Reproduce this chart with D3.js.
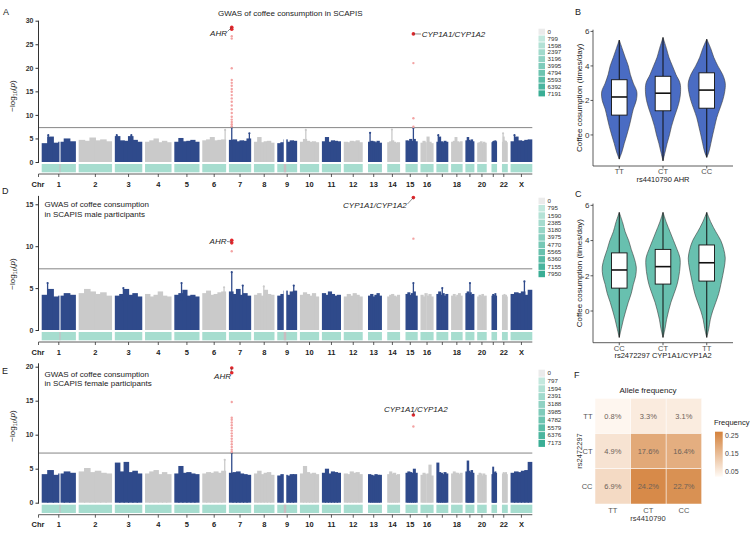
<!DOCTYPE html>
<html>
<head>
<meta charset="utf-8">
<script src="https://cdn.jsdelivr.net/npm/d3@7/dist/d3.min.js"></script>
<style>
body { margin: 0; background: #fff; }
svg { font-family: "Liberation Sans", Arial, sans-serif; display: block; }
</style>
</head>
<body>
<div id="view"></div>
<script>
var width = 752, height = 535;
var svg = null;

// chromosomes (Mb)
var chrNames = ["1","2","3","4","5","6","7","8","9","10","11","12","13","14","15","16","17","18","19","20","21","22","X"];
var chrLen   = [249,243,198,191,181,171,159,146,141,136,135,134,115,107,103,90,81,78,59,63,48,51,155];
var chrFirst = [0,0,0,0,0,0,0,0,0,0,0,0,19,19,20,0,0,0,0,0,15,16,0];
var chrShown = ["1","2","3","4","5","6","7","8","9","10","11","12","13","14","15","16","18","20","22","X"];
var chrGaps  = [[0,125,142],[8,40,68],[15,36,46]];   // chr index, from Mb, to Mb
var gapMb = 30;

// panel A: upper envelope of the dense SNP cloud (6 bins per chromosome)
var profA = [
 [4.0,5.4,4.1,4.3,5.0,4.4],[4.7,4.5,5.2,4.6,4.8,4.4],[5.5,4.6,4.5,5.5,4.7,4.3],[4.3,4.6,5.0,4.2,4.5,4.2],
 [4.3,5.1,4.4,4.5,4.7,4.3],[4.6,4.8,5.3,4.6,4.7,4.8],[4.7,4.8,4.4,4.6,4.5,5.0],[4.3,5.3,4.2,4.4,4.5,4.1],
 [4.0,4.2,4.8,4.3,4.6,4.5],[4.3,4.9,4.5,4.3,4.4,4.2],[4.4,5.3,4.3,4.6,4.5,4.4],[4.3,4.2,4.5,4.4,4.6,4.2],
 [4.3,4.5,4.4,4.2,4.5,4.1],[4.2,4.4,4.6,4.3,4.1,4.2],[4.6,4.5,4.9,4.5,4.9,4.4],[4.1,4.5,4.2,5.4,4.3,4.0],
 [4.3,5.4,4.4,4.2,4.5,4.3],[4.3,4.5,5.3,4.4,4.2,4.4],[4.6,5.3,4.7,4.5,4.8,4.4],[4.1,4.2,4.4,4.0,4.3,4.1],
 [4.2,4.4,4.5,4.3,4.6,4.4],[4.3,5.4,4.6,4.4,4.5,4.2],[4.4,5.4,4.6,4.5,4.7,4.8]
];
var hitsA = [[0,45,5.7],[2,10,5.7],[2,120,5.7],[5,168,6.8],[6,17,7.3],[6,150,6.1],[9,40,6.8],[12,30,6.2],[13,50,6.9],[14,75,7.2],[16,10,5.7],[21,20,6.1],[22,25,5.7]];
var ahrA = { red: [28.6, 28.2], pink: [26.7,26.2,19.9,17.4,16.8,16.2,15.5,14.9,14.2,13.5,12.8,12.0,11.2,10.4,9.6,9.0,8.5,8.0,7.6] };
var cypA = { red: [27.2], pink: [21.0, 9.3, 7.5] };
var legA = ["0","799","1598","2397","3196","3995","4794","5593","6392","7191"];

// panel D (male)
var profD = [
 [4.2,4.9,4.0,4.1,4.4,4.2],[4.4,4.9,4.6,4.3,4.5,4.1],[4.1,4.3,4.9,4.2,4.4,4.0],[4.3,4.0,4.2,4.6,4.1,4.0],
 [4.2,4.4,4.8,4.1,4.2,4.0],[4.4,4.7,4.2,4.3,4.5,4.6],[4.6,4.3,4.9,4.2,4.4,4.1],[4.2,4.4,4.1,4.8,4.3,4.2],
 [4.1,4.3,4.7,4.2,4.6,4.7],[4.2,4.5,4.3,4.1,4.4,4.0],[4.4,4.2,4.6,4.3,4.1,4.2],[4.0,4.3,4.1,4.4,4.2,4.0],
 [4.1,4.3,4.0,4.2,4.4,4.1],[4.0,4.2,4.3,4.1,4.0,4.2],[4.3,4.5,4.2,4.4,4.6,4.1],[4.2,4.0,4.4,4.1,4.3,4.0],
 [4.3,4.6,4.2,4.4,4.1,4.3],[4.1,4.3,4.0,4.2,4.4,4.1],[4.4,4.6,4.3,4.5,4.2,4.3],[4.0,4.2,4.1,4.3,4.0,4.1],
 [4.1,4.3,4.2,4.0,4.4,4.1],[4.2,4.0,4.3,4.1,4.2,4.0],[4.3,4.5,4.4,4.6,4.2,4.8]
];
var hitsD = [[0,40,5.6],[2,60,5.0],[4,50,5.6],[5,160,5.1],[6,17,6.9],[6,100,5.3],[7,70,5.2],[8,120,5.3],[14,75,5.6],[16,40,5.0],[18,30,5.6],[22,100,5.8]];
var ahrD = { red: [10.7, 10.4], pink: [9.4] };
var cypD = { red: [15.8], pink: [10.9] };
var legD = ["0","795","1590","2385","3180","3975","4770","5565","6360","7155","7950"];

// panel E (female)
var profE = [
 [4.2,4.8,4.1,4.3,4.6,4.4],[4.6,5.1,4.5,4.7,4.4,4.3],[5.9,4.6,6.0,4.5,4.7,4.3],[4.3,4.6,4.8,4.2,4.5,4.2],
 [4.3,5.4,4.4,4.5,4.3,4.2],[4.3,4.5,4.4,4.6,4.4,4.7],[4.4,4.5,4.6,4.3,4.2,4.1],[4.3,4.7,4.2,4.4,4.5,4.1],
 [4.0,4.2,4.1,4.0,4.2,4.2],[4.3,5.4,4.5,4.3,4.4,4.2],[4.4,5.0,4.3,4.6,4.5,4.4],[4.3,4.2,4.6,4.4,4.5,4.2],
 [4.2,4.1,4.0,4.2,4.1,4.1],[4.2,4.6,4.3,4.4,4.1,4.2],[4.4,4.6,4.5,4.4,5.0,4.4],[4.1,4.4,4.2,4.3,5.6,4.0],
 [5.9,4.5,4.4,4.2,4.5,4.3],[4.3,4.6,4.4,4.4,4.2,4.4],[4.6,6.2,4.7,4.5,4.8,4.4],[4.1,4.4,4.3,4.0,4.3,4.1],
 [4.2,5.3,4.5,4.3,4.6,4.4],[4.3,4.5,4.4,4.2,4.5,4.2],[4.4,4.6,4.5,4.7,4.8,6.0]
];
var hitsE = [[5,165,6.3],[6,17,7.3]];
var ahrE = { red: [19.8, 19.1], pink: [14.8,12.5,12.2,11.8,11.4,11.0,10.6,10.2,9.8,9.4,9.0,8.6,8.2,7.8,7.5] };
var cypE = { red: [12.9], pink: [11.2] };
var legE = ["0","797","1594","2391","3188","3985","4782","5579","6376","7173"];

var ahrChr = 6, ahrMb = 17, cypChr = 14, cypMb = 75;
var genomeLine = 7.3;

// panel B / C: violins (value, relative density) and box stats [q1, median, q3, min, max]
var groupsB = ["TT","CT","CC"];
var shapeB = [
 [[-1.4,0],[-1,.14],[-0.5,.27],[0,.41],[0.5,.54],[1,.65],[1.5,.76],[2,.92],[2.5,.95],[3,.76],[3.5,.6],[4,.49],[4.5,.32],[5,.16],[5.5,0]],
 [[-1.5,0],[-1,.11],[-0.5,.22],[0,.35],[0.5,.46],[1,.6],[1.5,.76],[2,.89],[2.5,.95],[3,.92],[3.5,.7],[4,.51],[4.5,.32],[5,.19],[5.65,0]],
 [[-1.3,0],[-1,.11],[-0.5,.22],[0,.32],[0.5,.43],[1,.54],[1.5,.7],[2,.86],[2.5,.97],[3,1],[3.5,.86],[4,.6],[4.5,.38],[5,.22],[5.55,0]]
];
var statsB = [[1.15,2.2,3.2,-1.4,5.5],[1.4,2.42,3.4,-1.5,5.65],[1.55,2.6,3.6,-1.3,5.55]];
var groupsC = ["CC","CT","TT"];
var shapeC = [
 [[-1.5,0],[-1,.11],[-0.5,.22],[0,.35],[0.5,.49],[1,.65],[1.5,.76],[2,.89],[2.5,.92],[3,.81],[3.5,.65],[4,.51],[4.5,.32],[5,.19],[5.6,0]],
 [[-1.5,0],[-1,.11],[-0.5,.19],[0,.3],[0.5,.43],[1,.6],[1.5,.76],[2,.86],[2.5,.92],[3,.92],[3.5,.76],[4,.57],[4.5,.38],[5,.19],[5.6,0]],
 [[-1.5,0],[-1,.11],[-0.5,.19],[0,.32],[0.5,.49],[1,.65],[1.5,.76],[2,.86],[2.5,.95],[3,1],[3.5,.92],[4,.76],[4.5,.49],[5,.24],[5.6,0]]
];
var statsC = [[1.3,2.33,3.3,-1.5,5.6],[1.53,2.52,3.5,-1.5,5.6],[1.7,2.74,3.75,-1.5,5.6]];
var violinTicks = ["0","2","4","6"];

// panel F: allele frequency table
var fRows = ["TT","CT","CC"];          // rs2472297, top to bottom
var fCols = ["TT","CT","CC"];          // rs4410790
var fFreq = [[0.008,0.033,0.031],[0.049,0.176,0.164],[0.069,0.242,0.227]];
var fLegendTicks = [0.05,0.15,0.25];

var navy = "#2f4a8b", grey = "#cacaca";

// genome x scale
var chrOffset = [], totalMb = 0;
for (var i = 0; i < chrLen.length; i++) {
	chrOffset.push(totalMb);
	totalMb += chrLen[i] + (i < chrLen.length - 1 ? gapMb : 0);
}
var xGen = d3.scaleLinear().domain([0, totalMb]).range([42.3, 531.7]);
function xg(i, mb) { return xGen(chrOffset[i] + mb); }

svg = d3.select("#view").append("svg")
	.attr("width", width)
	.attr("height", height);

function panelLetter(t, x, y) {
	svg.append("text").attr("x", x).attr("y", y).attr("font-size", "9px").attr("fill", "#222").text(t);
}

function drawManhattan(c) {
	var g = svg.append("g");
	var y = d3.scaleLinear().domain([0, c.ymax]).range([c.y0, c.yTop]);

	// SNP cloud
	var bars = [];
	c.prof.forEach(function(p, i) {
		var n = p.length, span = chrLen[i] - chrFirst[i];
		p.forEach(function(v, k) {
			bars.push({ i: i, a: chrFirst[i] + span * k / n, b: chrFirst[i] + span * (k + 1) / n, v: v });
		});
	});
	g.selectAll(".bar").data(bars).enter().append("rect")
		.attr("x", function(d) { return xg(d.i, d.a) - 0.6; })
		.attr("width", function(d) { return xg(d.i, d.b) - xg(d.i, d.a) + 1.2; })
		.attr("y", function(d) { return y(d.v); })
		.attr("height", function(d) { return y(0) - y(d.v); })
		.attr("fill", function(d) { return d.i % 2 == 0 ? navy : grey; });
	// centromere holes
	g.selectAll(".hole").data(chrGaps).enter().append("rect")
		.attr("x", function(d) { return xg(d[0], d[1]) + 0.6; })
		.attr("width", function(d) { return xg(d[0], d[2]) - xg(d[0], d[1]) - 1.2; })
		.attr("y", y(7)).attr("height", y(0) - y(7) + 1)
		.attr("fill", "#fff");
	// isolated tall SNPs
	g.selectAll(".hit").data(c.hits).enter().append("line")
		.attr("x1", function(d) { return xg(d[0], d[1]); })
		.attr("x2", function(d) { return xg(d[0], d[1]); })
		.attr("y1", y(3.5)).attr("y2", function(d) { return y(d[2]); })
		.attr("stroke", function(d) { return d[0] % 2 == 0 ? navy : grey; })
		.attr("stroke-width", 1.3);
	g.selectAll(".hitp").data(c.hits).enter().append("circle")
		.attr("cx", function(d) { return xg(d[0], d[1]); })
		.attr("cy", function(d) { return y(d[2]); })
		.attr("r", 1.1)
		.attr("fill", function(d) { return d[0] % 2 == 0 ? navy : grey; });

	// genome-wide significance
	g.append("line").attr("x1", 39).attr("x2", 532.3)
		.attr("y1", y(genomeLine)).attr("y2", y(genomeLine))
		.attr("stroke", "#777").attr("stroke-width", 0.9);

	// significant loci
	[[ahrChr, ahrMb, c.ahr], [cypChr, cypMb, c.cyp]].forEach(function(L) {
		var px = xg(L[0], L[1]);
		g.selectAll(null).data(L[2].pink).enter().append("circle")
			.attr("cx", px).attr("cy", function(d) { return y(d); })
			.attr("r", 1.2).attr("fill", "#f3a3a3");
		g.selectAll(null).data(L[2].red).enter().append("circle")
			.attr("cx", px).attr("cy", function(d) { return y(d); })
			.attr("r", 1.8).attr("fill", "#e3262b");
	});

	// gene labels with leader lines
	c.labels.forEach(function(l) {
		var px = xg(l.chr, l.mb), py = y(l.v);
		g.append("line").attr("x1", l.lx).attr("y1", l.ly).attr("x2", px).attr("y2", py)
			.attr("stroke", "#444").attr("stroke-width", 0.6);
		g.append("text").attr("x", l.tx).attr("y", l.ty).attr("text-anchor", l.anchor)
			.attr("font-size", "8px").attr("font-style", "italic").attr("fill", "#222").text(l.text);
	});

	// SNP density strip
	g.selectAll(".strip").data(chrLen).enter().append("rect")
		.attr("x", function(d, i) { return xg(i, chrFirst[i]) - 0.6; })
		.attr("width", function(d, i) { return xg(i, d) - xg(i, chrFirst[i]) + 1.2; })
		.attr("y", c.y0 + 2).attr("height", 8.3)
		.attr("fill", "#a6ddcf");
	g.selectAll(".sgap").data(chrGaps).enter().append("rect")
		.attr("x", function(d) { return xg(d[0], d[1]) + 0.6; })
		.attr("width", function(d) { return xg(d[0], d[2]) - xg(d[0], d[1]) - 1.2; })
		.attr("y", c.y0 + 2).attr("height", 8.3)
		.attr("fill", function(d) { return d[0] == 15 ? "#b9cfc9" : "#c9bcc0"; });

	// y axis
	var ya = g.append("g").attr("transform", "translate(38.5,0)")
		.call(d3.axisLeft(y).tickValues(c.ticks).tickSize(3).tickPadding(2));
	ya.select(".domain").attr("stroke", "#333").attr("d", "M0," + y(c.ymax) + "V" + (c.y0 + 1));
	ya.selectAll(".tick line").attr("stroke", "#333");
	ya.selectAll("text").attr("font-size", "7px").attr("font-weight", "bold").attr("fill", "#333")
		.attr("font-family", "Liberation Sans, Arial, sans-serif");

	var ylab = g.append("text").attr("transform", "translate(15," + c.ylabY + ") rotate(-90)")
		.attr("text-anchor", "middle").attr("font-size", "8px").attr("fill", "#222");
	ylab.append("tspan").text("\u2212log");
	ylab.append("tspan").attr("font-size", "5.5px").attr("dy", 2).text("10");
	ylab.append("tspan").attr("dy", -2).text("(");
	ylab.append("tspan").attr("font-style", "italic").text("p");
	ylab.append("tspan").text(")");

	// x axis
	var ax = c.y0 + 12;
	g.append("line").attr("x1", 38.5).attr("x2", 532.3).attr("y1", ax).attr("y2", ax)
		.attr("stroke", "#333").attr("stroke-width", 0.8);
	var centers = chrLen.map(function(d, i) { return xg(i, d / 2); });
	g.selectAll(".xt").data([38.5].concat(centers)).enter().append("line")
		.attr("x1", function(d) { return d; }).attr("x2", function(d) { return d; })
		.attr("y1", ax).attr("y2", ax + 3)
		.attr("stroke", "#333").attr("stroke-width", 0.8);
	g.append("text").attr("x", 38).attr("y", ax + 12.5).attr("text-anchor", "middle")
		.attr("font-size", "7.5px").attr("font-weight", "bold").attr("fill", "#222").text("Chr");
	g.selectAll(".xl").data(chrShown).enter().append("text")
		.attr("x", function(d) { var i = chrNames.indexOf(d); return centers[i]; })
		.attr("y", ax + 12.5).attr("text-anchor", "middle")
		.attr("font-size", "7.5px").attr("font-weight", "bold").attr("fill", "#222")
		.text(function(d) { return d; });

	// title
	c.title.forEach(function(t, k) {
		g.append("text").attr("x", c.titleX).attr("y", c.titleY + k * 9.5)
			.attr("font-size", "8px").attr("fill", "#222").text(t);
	});

	drawCountLegend(c.legend, 538.5, c.legY, c.legStep);
}

function drawCountLegend(labels, x, y0, step) {
	var col = d3.scaleLinear().domain([1, labels.length - 1]).range(["#c3e8de", "#3aae95"]);
	var g = svg.append("g");
	g.selectAll("rect").data(labels).enter().append("rect")
		.attr("x", x).attr("width", 6.5)
		.attr("y", function(d, i) { return y0 + i * step - 3; })
		.attr("height", step - 0.8)
		.attr("fill", function(d, i) { return i == 0 ? "#ebebeb" : col(i); });
	g.selectAll("text").data(labels).enter().append("text")
		.attr("x", x + 9).attr("y", function(d, i) { return y0 + i * step + 2.2; })
		.attr("font-size", "6.2px").attr("fill", "#333")
		.text(function(d) { return d; });
}

function drawViolins(c) {
	var g = svg.append("g");
	var y = d3.scaleLinear().domain([-1.8, 6.1]).range([c.bottom, c.top]);
	var x = d3.scalePoint().domain(c.groups).range([593, 733]).padding(0.6);
	var w = d3.scaleLinear().domain([0, 1]).range([0, 18.5]);

	c.groups.forEach(function(grp, k) {
		var cx = x(grp), s = c.stats[k];
		var area = d3.area().curve(d3.curveCatmullRom)
			.y(function(d) { return y(d[0]); })
			.x0(function(d) { return cx - w(d[1]); })
			.x1(function(d) { return cx + w(d[1]); });
		g.append("path").attr("d", area(c.shapes[k]))
			.attr("fill", c.fill).attr("stroke", "#3a3a3a").attr("stroke-width", 0.6);
		g.append("line").attr("x1", cx).attr("x2", cx).attr("y1", y(s[3])).attr("y2", y(s[4]))
			.attr("stroke", "#111").attr("stroke-width", 1);
		g.append("rect").attr("x", cx - 7.8).attr("width", 15.6)
			.attr("y", y(s[2])).attr("height", y(s[0]) - y(s[2]))
			.attr("fill", "#fff").attr("stroke", "#111").attr("stroke-width", 0.9);
		g.append("line").attr("x1", cx - 7.8).attr("x2", cx + 7.8).attr("y1", y(s[1])).attr("y2", y(s[1]))
			.attr("stroke", "#111").attr("stroke-width", 1.6);
	});

	// axes drawn by hand so the labels sit tight like ggplot's classic theme
	g.append("line").attr("x1", 593).attr("x2", 593).attr("y1", y(6.1)).attr("y2", c.bottom)
		.attr("stroke", "#333").attr("stroke-width", 0.8);
	g.append("line").attr("x1", 593).attr("x2", 733).attr("y1", c.bottom).attr("y2", c.bottom)
		.attr("stroke", "#333").attr("stroke-width", 0.8);
	violinTicks.forEach(function(t) {
		var ty = y(+t);
		g.append("line").attr("x1", 590.5).attr("x2", 593).attr("y1", ty).attr("y2", ty)
			.attr("stroke", "#333").attr("stroke-width", 0.8);
		g.append("text").attr("x", 589.5).attr("y", ty + 2.8)
			.attr("text-anchor", "end").attr("font-size", "8px").attr("fill", "#333")
			.text(t);
	});
	g.selectAll(".xt").data(c.groups).enter().append("line")
		.attr("x1", function(d) { return x(d); }).attr("x2", function(d) { return x(d); })
		.attr("y1", c.bottom).attr("y2", c.bottom + 2.5)
		.attr("stroke", "#333").attr("stroke-width", 0.8);
	g.selectAll(".xl").data(c.groups).enter().append("text")
		.attr("x", function(d) { return x(d); }).attr("y", c.bottom + 8)
		.attr("text-anchor", "middle").attr("font-size", "7.5px").attr("fill", "#4d4d4d")
		.text(function(d) { return d; });

	g.append("text").attr("x", 663).attr("y", c.bottom + 15.5).attr("text-anchor", "middle")
		.attr("font-size", "7.5px").attr("fill", "#222").text(c.xlab);
	g.append("text").attr("transform", "translate(581.5," + ((c.top + c.bottom) / 2) + ") rotate(-90)")
		.attr("text-anchor", "middle").attr("font-size", "8px").attr("fill", "#222")
		.text("Coffee cosumption (times/day)");
}

function drawHeatmap() {
	var g = svg.append("g");
	var x = d3.scaleBand().domain(fCols).range([595, 701.7]);
	var y = d3.scaleBand().domain(fRows).range([398.3, 504]);
	var col = d3.scaleLinear().domain([0, 0.26]).range(["#fffaf5", "#d4823c"]);
	var cells = [];
	fRows.forEach(function(r, i) { fCols.forEach(function(c, j) { cells.push({ r: r, c: c, v: fFreq[i][j] }); }); });

	g.selectAll("rect").data(cells).enter().append("rect")
		.attr("x", function(d) { return x(d.c); }).attr("y", function(d) { return y(d.r); })
		.attr("width", x.bandwidth()).attr("height", y.bandwidth())
		.attr("fill", function(d) { return col(d.v); })
		.attr("stroke", "#fff").attr("stroke-width", 0.5);
	g.selectAll(".lab").data(cells).enter().append("text")
		.attr("x", function(d) { return x(d.c) + x.bandwidth() / 2; })
		.attr("y", function(d) { return y(d.r) + y.bandwidth() / 2 + 2.7; })
		.attr("text-anchor", "middle").attr("font-size", "7.5px").attr("fill", "#6e6258")
		.text(function(d) { return d3.format(".1%")(d.v); });

	g.selectAll(".rl").data(fRows).enter().append("text")
		.attr("x", 592.5).attr("y", function(d) { return y(d) + y.bandwidth() / 2 + 2.7; })
		.attr("text-anchor", "end").attr("font-size", "7.5px").attr("fill", "#555").text(function(d) { return d; });
	g.selectAll(".cl").data(fCols).enter().append("text")
		.attr("x", function(d) { return x(d) + x.bandwidth() / 2; }).attr("y", 512.5)
		.attr("text-anchor", "middle").attr("font-size", "7.5px").attr("fill", "#555").text(function(d) { return d; });
	g.append("text").attr("x", 648).attr("y", 520.5).attr("text-anchor", "middle")
		.attr("font-size", "7.5px").attr("fill", "#333").text("rs4410790");
	g.append("text").attr("transform", "translate(581.5,451) rotate(-90)").attr("text-anchor", "middle")
		.attr("font-size", "7.5px").attr("fill", "#333").text("rs2472297");
	g.append("text").attr("x", 648).attr("y", 392.5).attr("text-anchor", "middle")
		.attr("font-size", "8px").attr("fill", "#222").text("Allele frequency");

	// colour bar
	var ly = d3.scaleLinear().domain([0.023, 0.269]).range([476.7, 431.7]);
	var grad = svg.append("defs").append("linearGradient").attr("id", "fgrad")
		.attr("x1", 0).attr("y1", 1).attr("x2", 0).attr("y2", 0);
	grad.append("stop").attr("offset", "0%").attr("stop-color", col(0.0));
	grad.append("stop").attr("offset", "100%").attr("stop-color", col(0.26));
	g.append("rect").attr("x", 715).attr("y", 431.7).attr("width", 7.7).attr("height", 45)
		.attr("fill", "url(#fgrad)");
	g.append("text").attr("x", 714).attr("y", 425).attr("font-size", "7.5px").attr("fill", "#222").text("Frequency");
	g.selectAll(".lt").data(fLegendTicks).enter().append("text")
		.attr("x", 725).attr("y", function(d) { return ly(d) + 2.5; })
		.attr("font-size", "7px").attr("fill", "#444").text(function(d) { return d.toFixed(2); });
}

// ---- draw ----
drawManhattan({
	y0: 162, yTop: 20.7, ymax: 30, ticks: [0,5,10,15,20,25,30], ylabY: 96,
	prof: profA, hits: hitsA, ahr: ahrA, cyp: cypA,
	labels: [
		{ chr: ahrChr, mb: ahrMb, v: 28.6, text: "AHR", tx: 227, ty: 36, anchor: "end", lx: 227.5, ly: 31.5 },
		{ chr: cypChr, mb: cypMb, v: 27.2, text: "CYP1A1/CYP1A2", tx: 421.7, ty: 36.7, anchor: "start", lx: 421, ly: 34 }
	],
	title: ["GWAS of coffee consumption in SCAPIS"], titleX: 218, titleY: 15.5,
	legend: legA, legY: 31.7, legStep: 6.85
});
drawManhattan({
	y0: 330, yTop: 195.9, ymax: 16, ticks: [0,5,10,15], ylabY: 274,
	prof: profD, hits: hitsD, ahr: ahrD, cyp: cypD,
	labels: [
		{ chr: ahrChr, mb: ahrMb, v: 10.5, text: "AHR", tx: 226.5, ty: 244, anchor: "end", lx: 227, ly: 241.5 },
		{ chr: cypChr, mb: cypMb, v: 15.8, text: "CYP1A1/CYP1A2", tx: 406.7, ty: 207.5, anchor: "end", lx: 407.5, ly: 204 }
	],
	title: ["GWAS of coffee consumption", "in SCAPIS male participants"], titleX: 44.5, titleY: 207,
	legend: legD, legY: 200.7, legStep: 7.3
});
drawManhattan({
	y0: 502.7, yTop: 363.3, ymax: 20.5, ticks: [0,5,10,15,20], ylabY: 426,
	prof: profE, hits: hitsE, ahr: ahrE, cyp: cypE,
	labels: [
		{ chr: ahrChr, mb: ahrMb, v: 19.8, text: "AHR", tx: 231, ty: 378.5, anchor: "end", lx: 231, ly: 372 },
		{ chr: cypChr, mb: cypMb, v: 12.9, text: "CYP1A1/CYP1A2", tx: 384, ty: 411.5, anchor: "start", lx: 413.7, ly: 412 }
	],
	title: ["GWAS of coffee consumption", "in SCAPIS female participants"], titleX: 44.5, titleY: 376.5,
	legend: legE, legY: 372.7, legStep: 7.8
});

drawViolins({ top: 29.7, bottom: 166, groups: groupsB, shapes: shapeB, stats: statsB, fill: "#4a6cc3", xlab: "rs4410790 AHR" });
drawViolins({ top: 203.6, bottom: 342.7, groups: groupsC, shapes: shapeC, stats: statsC, fill: "#68c0af", xlab: "rs2472297 CYP1A1/CYP1A2" });
drawHeatmap();

panelLetter("A", 3, 15);
panelLetter("B", 575, 15);
panelLetter("C", 575, 197);
panelLetter("D", 2, 194);
panelLetter("E", 2, 374);
panelLetter("F", 574, 377.5);
</script>
</body>
</html>
